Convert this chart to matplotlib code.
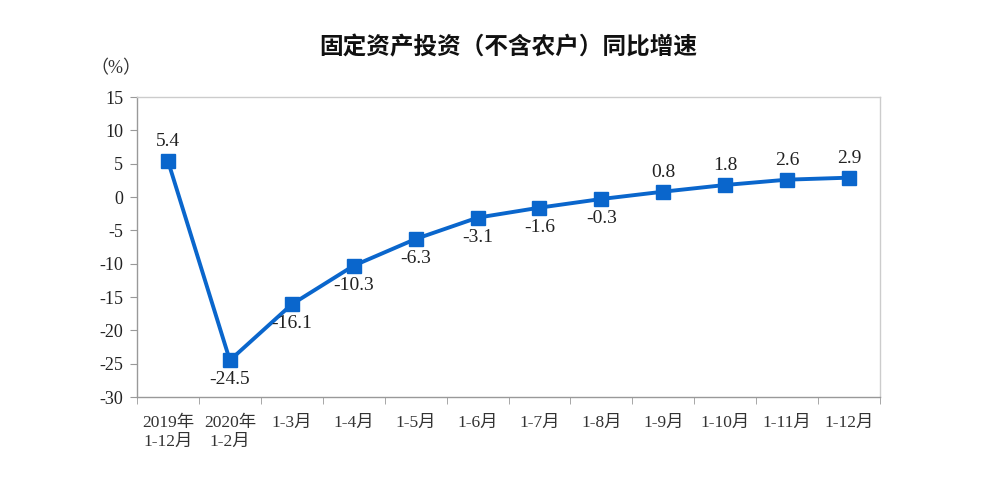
import matplotlib
matplotlib.use("Agg")
import matplotlib.pyplot as plt
import numpy as np

categories = ["2019年\n1-12月", "2020年\n1-2月", "1-3月", "1-4月", "1-5月", "1-6月",
              "1-7月", "1-8月", "1-9月", "1-10月", "1-11月", "1-12月"]
values = [5.4, -24.5, -16.1, -10.3, -6.3, -3.1, -1.6, -0.3, 0.8, 1.8, 2.6, 2.9]
label_above = [True, False, False, False, False, False, False, False, True, True, True, True]
yticks = [15, 10, 5, 0, -5, -10, -15, -20, -25, -30]

fam = ["Liberation Serif", "Noto Sans CJK SC", "DejaVu Sans"]
plt.rcParams["font.family"] = fam

fig = plt.figure(figsize=(9.82, 4.83), dpi=100)
ax = fig.add_axes([137/982, 1 - 397/483, (880-137)/982, (397-97)/483])

x = np.arange(len(values))
color = "#0a66cc"
ax.plot(x, values, color=color, lw=2.8, marker="s", markersize=9.5, zorder=3)

for xi, v, up in zip(x, values, label_above):
    if up:
        ax.annotate(f"{v:.1f}", (xi, v), xytext=(0, 8), textcoords="offset points",
                    ha="center", va="bottom", fontsize=14, color="#222222")
    else:
        ax.annotate(f"{v:.1f}", (xi, v), xytext=(0, -8), textcoords="offset points",
                    ha="center", va="top", fontsize=14, color="#222222")

ax.set_xlim(-0.5, len(values) - 0.5)
ax.set_ylim(-30, 15)
ax.set_yticks(yticks)
ax.set_yticklabels([str(t) for t in yticks], fontsize=13, color="#222222")
ax.set_xticks(x)
ax.set_xticklabels(categories, fontsize=12.5, color="#333333", linespacing=1.2, va="top")
ax.set_xticks(np.arange(-0.5, len(values)), minor=True)
ax.tick_params(axis="x", which="major", length=0, pad=13)
ax.tick_params(axis="x", which="minor", length=5, color="#999999", direction="out")
ax.tick_params(axis="y", length=5, color="#999999", direction="out", pad=5)

for s in ["left", "bottom"]:
    ax.spines[s].set_color("#999999")
    ax.spines[s].set_linewidth(1.0)
for s in ["top", "right"]:
    ax.spines[s].set_color("#cccccc")
    ax.spines[s].set_linewidth(1.0)

fig.text(508/982, 1 - 48/483, "固定资产投资（不含农户）同比增速", ha="center", va="center",
         fontsize=17, fontweight="bold", color="#111111")
fig.text(116/982, 1 - 69/483, "（%）", ha="center", va="center", fontsize=13, color="#333333")

fig.savefig("out.png", dpi=100, facecolor="white")
